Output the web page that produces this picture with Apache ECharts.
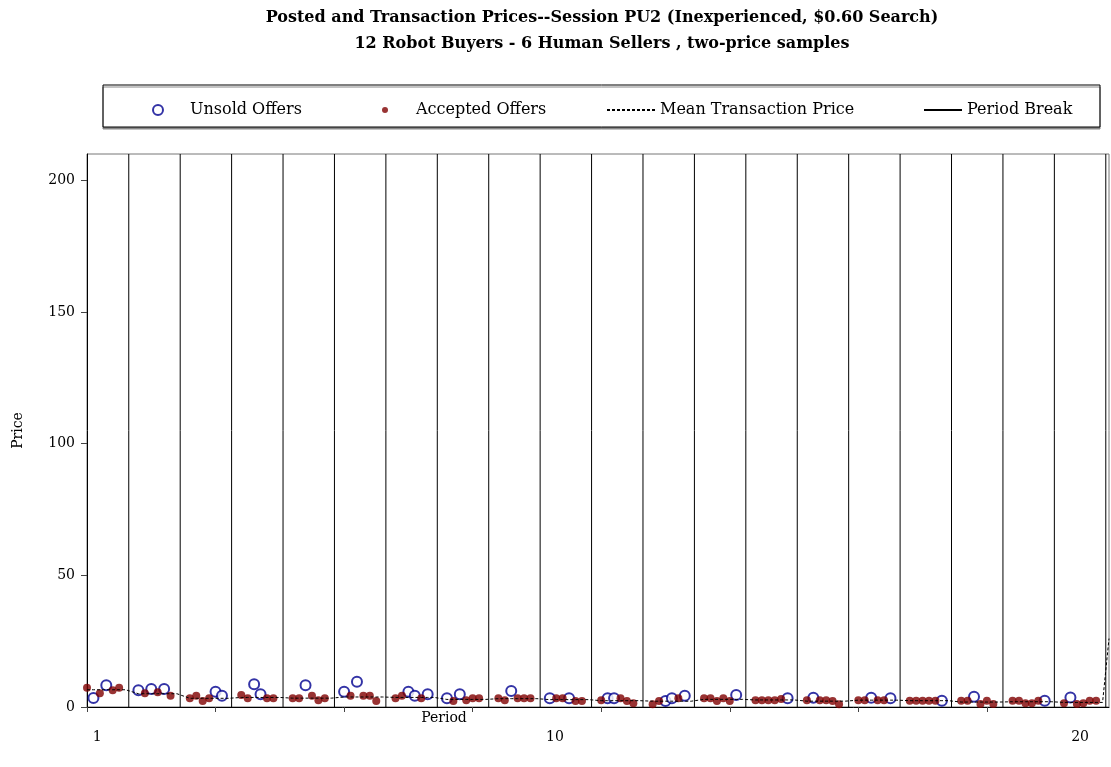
<!DOCTYPE html>
<html>
<head>
<meta charset="utf-8">
<title>Posted and Transaction Prices</title>
<script src="https://cdn.jsdelivr.net/npm/echarts@6/dist/echarts.min.js"></script>
<style>
  html, body { margin: 0; padding: 0; background: #fff; }
  #chart { width: 1111px; height: 767px; }
</style>
</head>
<body>
<div id="chart"></div>
<script>
// prices of the 6 offers posted in each of the 20 periods
const offerPrices = [
  [7.3, 3.4, 5.2, 8.3, 6.4, 7.3],
  [6.4, 5.2, 6.8, 5.6, 6.8, 4.3],
  [3.3, 4.3, 2.3, 3.3, 5.8, 4.3],
  [4.6, 3.3, 8.6, 4.8, 3.3, 3.3],
  [3.3, 3.3, 8.3, 4.3, 2.6, 3.3],
  [5.8, 4.3, 9.6, 4.3, 4.3, 2.3],
  [3.3, 4.3, 5.8, 4.3, 3.3, 4.8],
  [3.3, 2.3, 4.8, 2.6, 3.3, 3.3],
  [3.3, 2.6, 6.1, 3.3, 3.3, 3.3],
  [3.3, 3.3, 3.3, 3.3, 2.3, 2.3],
  [2.6, 3.3, 3.3, 3.3, 2.3, 1.4],
  [1.0, 2.3, 2.3, 3.3, 3.3, 4.3],
  [3.3, 3.3, 2.3, 3.3, 2.3, 4.6],
  [2.6, 2.6, 2.6, 2.6, 3.0, 3.3],
  [2.6, 3.5, 2.6, 2.6, 2.3, 1.0],
  [2.6, 2.6, 3.5, 2.6, 2.6, 3.3],
  [2.4, 2.4, 2.4, 2.4, 2.4, 2.4],
  [2.4, 2.4, 3.9, 1.1, 2.4, 1.1],
  [2.4, 2.4, 1.4, 1.4, 2.4, 2.4],
  [1.4, 3.6, 1.1, 1.4, 2.4, 2.4]
];
// A = accepted, U = unsold
const offerStatus = [
  'AUAUAA', 'UAUAUA', 'AAAAUU', 'AAUUAA', 'AAUAAA',
  'UAUAAA', 'AAUUAU', 'UAUAAA', 'AAUAAA', 'UAAUAA',
  'AUUAAA', 'AAUUAU', 'AAAAAU', 'AAAAAU', 'AUAAAA',
  'AAUAAU', 'AAAAAU', 'AAUAAA', 'AAAAAU', 'AUAAAA'
];
const periodBreaks = [6.5, 14.5, 22.5, 30.5, 38.5, 46.5, 54.5, 62.5, 70.5, 78.5,
  86.5, 94.5, 102.5, 110.5, 118.5, 126.5, 134.5, 142.5, 150.5, 158.5];
const meanTail = [159, 26];
const xTickValues = [0, 20, 40, 60, 80, 100, 120, 140];
const yTickValues = [0, 50, 100, 150, 200];
const periodLabelValues = [1.6, 72.8, 154.5];
const periodLabels = ['1', '10', '20'];
const titleLines = [
  'Posted and Transaction Prices--Session PU2 (Inexperienced, $0.60 Search)',
  '12 Robot Buyers - 6 Human Sellers , two-price samples'
];

const FONT = 'DejaVu Serif';
const SLOTS = 8; // x units per period

let unsold = [], accepted = [], meanLine = [], breakLine = [];
offerPrices.forEach(function (prices, p) {
  let sum = 0, n = 0;
  prices.forEach(function (v, i) {
    const x = p * SLOTS + i;
    if (offerStatus[p][i] === 'A') {
      accepted.push([x, v]);
      sum += v; n++;
    } else {
      unsold.push([x, v]);
    }
  });
  const mean = n ? sum / n : null;
  for (let i = 0; i <= 6; i++) meanLine.push([p * SLOTS + i, mean]);
});
meanLine.push(meanTail);
periodBreaks.forEach(function (x) {
  breakLine.push([x, 0], [x, 210], [x, '-']);
});

const chart = echarts.init(document.getElementById('chart'));
const legendText = { fontFamily: FONT, fontSize: 16, color: '#000' };
const option = {
  animation: false,
  backgroundColor: '#fff',
  title: {
    text: titleLines.join('\n'),
    left: 597,
    top: 0,
    textAlign: 'center',
    textStyle: { fontFamily: FONT, fontSize: 16, fontWeight: 'bold', lineHeight: 26, color: '#000' }
  },
  graphic: [{
    type: 'rect',
    z: 0,
    shape: { x: 103, y: 85, width: 997, height: 42 },
    style: { fill: '#fff', stroke: '#000', lineWidth: 1, shadowColor: '#888', shadowOffsetX: 0, shadowOffsetY: 2 }
  }],
  legend: [
    { data: ['Unsold Offers'], left: 147, top: 97, itemWidth: 54, itemHeight: 10, z: 10, textStyle: legendText },
    { data: ['Accepted Offers'], left: 377, top: 97, itemWidth: 52, itemHeight: 6, z: 10, textStyle: legendText },
    { data: ['Mean Transaction Price'], left: 601, top: 97, itemWidth: 48, itemHeight: 10, z: 10,
      itemStyle: { opacity: 0 }, textStyle: legendText },
    { data: ['Period Break'], left: 918, top: 97, itemWidth: 38, itemHeight: 10, z: 10,
      itemStyle: { opacity: 0 }, textStyle: legendText }
  ],
  grid: { left: 87, right: 2, top: 154, bottom: 60, show: true, borderColor: '#777', borderWidth: 1 },
  xAxis: [
    {
      type: 'value', min: 0, max: 159,
      name: 'Period', nameLocation: 'middle', nameGap: 4,
      nameTextStyle: { fontFamily: FONT, fontSize: 14, color: '#000', padding: [0, 308, 0, 0] },
      axisLine: { show: true, lineStyle: { color: '#000' } },
      axisTick: { show: true, length: 5, customValues: xTickValues, lineStyle: { color: '#444' } },
      axisLabel: { show: false },
      splitLine: { show: false }
    },
    {
      type: 'value', min: 0, max: 159, position: 'bottom',
      axisLine: { show: false }, axisTick: { show: false }, splitLine: { show: false },
      axisLabel: {
        customValues: periodLabelValues,
        margin: 23,
        fontFamily: FONT, fontSize: 14, color: '#000',
        formatter: function (v) { return periodLabels[periodLabelValues.indexOf(v)]; }
      }
    }
  ],
  yAxis: {
    type: 'value', min: 0, max: 210,
    name: 'Price', nameLocation: 'middle', nameGap: 62,
    nameTextStyle: { fontFamily: FONT, fontSize: 14, color: '#000' },
    axisLine: { show: true, lineStyle: { color: '#000' } },
    axisTick: { show: true, length: 6, customValues: yTickValues, lineStyle: { color: '#444' } },
    axisLabel: { customValues: yTickValues, margin: 12, fontFamily: FONT, fontSize: 14, color: '#000' },
    splitLine: { show: false }
  },
  series: [
    {
      name: 'Period Break', type: 'line', xAxisIndex: 0,
      data: breakLine, symbol: 'none', silent: true,
      lineStyle: { color: '#000', width: 1 }, itemStyle: { color: '#000' }
    },
    {
      name: 'Mean Transaction Price', type: 'line', xAxisIndex: 0,
      data: meanLine, symbol: 'none', silent: true,
      lineStyle: { color: '#000', width: 1, type: [3, 2] }, itemStyle: { color: '#000' }
    },
    {
      name: 'Unsold Offers', type: 'scatter', xAxisIndex: 0,
      data: unsold, symbol: 'emptyCircle', symbolSize: 10,
      itemStyle: { color: '#000090', borderWidth: 2 }
    },
    {
      name: 'Accepted Offers', type: 'scatter', xAxisIndex: 0,
      data: accepted, symbol: 'circle', symbolSize: 8,
      itemStyle: { color: '#800000' }
    }
  ]
};
chart.setOption(option);
</script>
</body>
</html>
